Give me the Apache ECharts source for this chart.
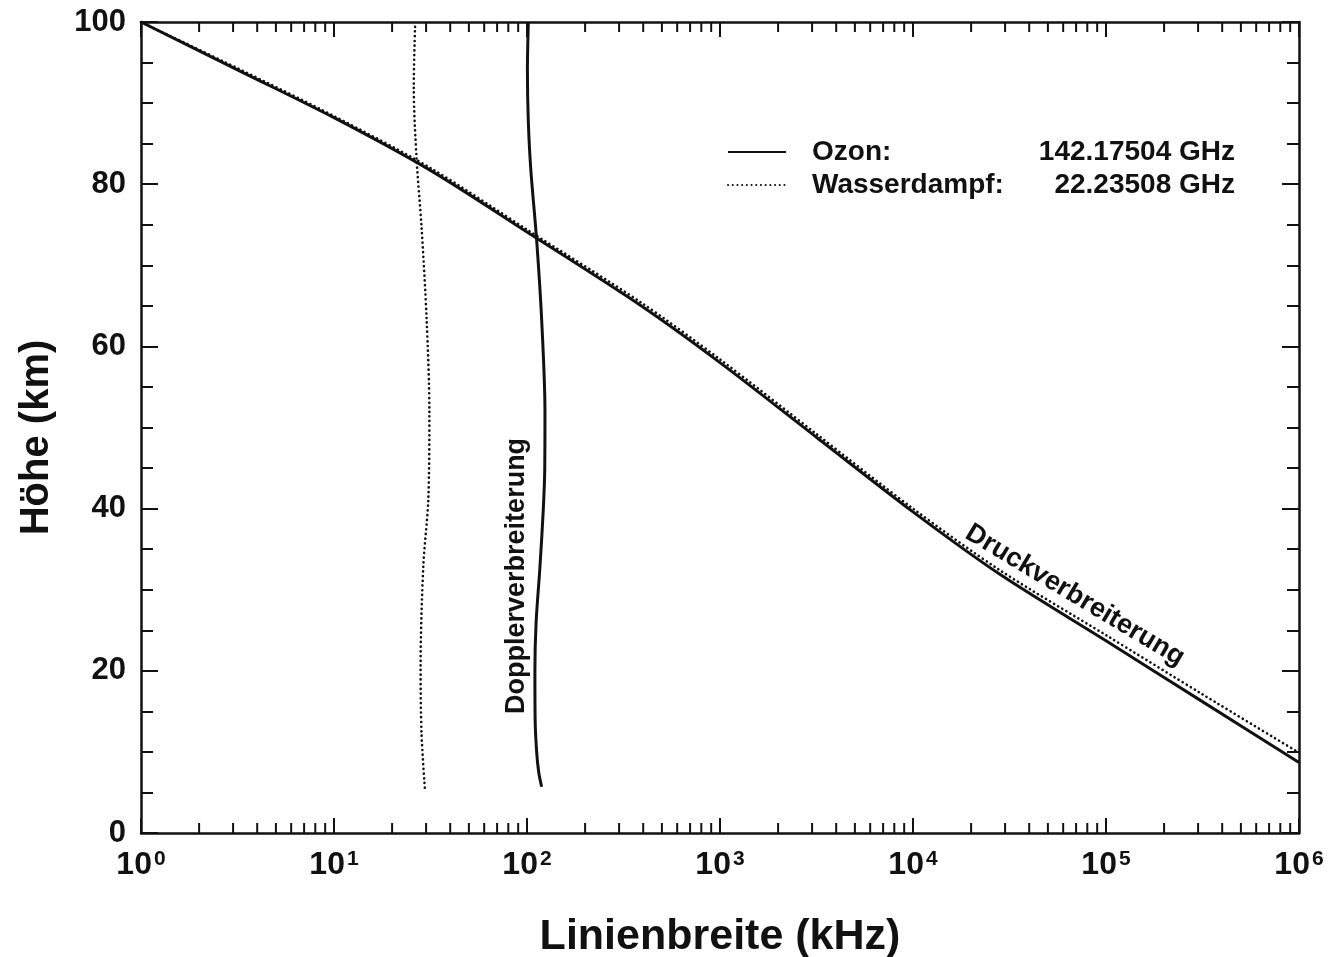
<!DOCTYPE html>
<html>
<head>
<meta charset="utf-8">
<script src="https://cdn.jsdelivr.net/npm/echarts@6/dist/echarts.min.js"></script>
<style>
  html, body { margin: 0; padding: 0; background: #ffffff; }
  #chart { width: 1334px; height: 957px; }
</style>
</head>
<body>
<div id="chart"></div>
<script>
// Linienbreite (kHz) gegen Höhe (km): Druck- und Dopplerverbreiterung
// für die Ozonlinie bei 142.17504 GHz und die Wasserdampflinie bei 22.23508 GHz.

// Druckverbreiterung, Ozon
const ozonDruckBreite = [1, 3.16, 10, 31.6, 100, 385, 1000, 3160, 10000, 28200, 100000, 316000, 1000000];
const ozonDruckHoehe  = [100, 94.1, 88.2, 81.7, 74.1, 65.1, 58.0, 48.8, 39.6, 31.9, 23.7, 16.2, 8.7];

// Druckverbreiterung, Wasserdampf
const wasserDruckBreite = [1, 3.16, 10, 31.6, 100, 385, 1000, 3160, 10000, 28200, 100000, 316000, 1000000];
const wasserDruckHoehe  = [100, 94.3, 88.4, 82.0, 74.4, 65.5, 58.4, 49.2, 40.0, 32.4, 24.4, 17.1, 9.9];

// Dopplerverbreiterung, Ozon
const ozonDopplerBreite = [101.6, 100.5, 101.5, 104.5, 112.2, 119.1, 123.9, 123.6, 121.5, 116.7, 111.5, 109.9, 110.2, 112.2, 115.0, 119.1];
const ozonDopplerHoehe  = [100, 94, 88, 82, 73.1, 63.3, 52, 45, 40, 32.8, 26, 20, 14, 10, 7.5, 5.7];

// Dopplerverbreiterung, Wasserdampf
const wasserDopplerBreite = [26.3, 25.9, 26.8, 28.4, 30.2, 31.2, 30.8, 29.0, 28.1, 28.4, 29.6];
const wasserDopplerHoehe  = [99.4, 92, 83, 74.8, 63.3, 52, 41.1, 32.8, 20.5, 12.3, 5.3];

// Achsen
const hoeheTicks = [0, 20, 40, 60, 80, 100];
const breiteMin = 1, breiteMax = 1000000;
const zwischenTicks = [];
for (let d = 1; d < breiteMax; d *= 10) {
  for (let k = 2; k <= 9; k++) zwischenTicks.push(k * d);
}

// Legende und Beschriftungen
const legendeNamen = ['Ozon', 'Wasserdampf'];
const legendeFrequenz = { 'Ozon': '142.17504 GHz', 'Wasserdampf': '22.23508 GHz' };
const beschriftungen = [
  { text: 'Dopplerverbreiterung', breite: 88.7, hoehe: 31.7, winkel: 90 },
  { text: 'Druckverbreiterung', breite: 69000, hoehe: 29.3, winkel: -31 }
];

const pairs = (xs, ys) => xs.map((x, i) => [x, ys[i]]);

const INK = '#111111';
const FONT = '"Liberation Sans", Arial, Helvetica, sans-serif';

const chart = echarts.init(document.getElementById('chart'), null, { renderer: 'canvas' });

const xAxisBase = {
  type: 'log',
  logBase: 10,
  min: breiteMin,
  max: breiteMax,
  splitLine: { show: false },
  axisLine: { show: true, onZero: false, lineStyle: { color: INK, width: 2.5 } },
  axisTick: { show: true, inside: true, length: 15, lineStyle: { color: INK, width: 2 } },
  minorTick: { show: false }
};

const yAxisBase = {
  type: 'value',
  min: 0,
  max: 100,
  interval: 20,
  splitLine: { show: false },
  axisLine: { show: true, onZero: false, lineStyle: { color: INK, width: 2.5 } },
  axisTick: { show: true, inside: true, length: 17, lineStyle: { color: INK, width: 2 } },
  minorTick: { show: true, splitNumber: 4, length: 12, lineStyle: { color: INK, width: 2 } }
};

const lineSeries = (name, xs, ys, dotted) => ({
  name: name,
  type: 'line',
  xAxisIndex: 0,
  yAxisIndex: 0,
  data: pairs(xs, ys),
  smooth: 0.3,
  symbol: 'none',
  showSymbol: false,
  z: dotted ? 4 : 3,
  lineStyle: dotted
    ? { color: INK, width: 2.6, type: [0.1, 4.6], cap: 'round' }
    : { color: INK, width: 3 },
  itemStyle: { color: INK },
  emphasis: { disabled: true },
  animation: false
});

const option = {
  backgroundColor: '#ffffff',
  animation: false,
  grid: { left: 141, right: 35, top: 22, bottom: 124, containLabel: false, outerBoundsMode: 'none' },
  xAxis: [
    Object.assign({}, xAxisBase, {
      position: 'bottom',
      name: 'Linienbreite (kHz)',
      nameLocation: 'middle',
      nameGap: 83,
      nameTextStyle: { fontFamily: FONT, fontSize: 43, fontWeight: 'bold', color: INK },
      axisLabel: {
        show: true,
        margin: 16,
        color: INK,
        formatter: v => '{b|10}{s|' + Math.round(Math.log10(v)) + '}',
        rich: {
          b: { fontFamily: FONT, fontSize: 32, fontWeight: 'bold', color: INK, lineHeight: 32, verticalAlign: 'bottom' },
          s: { fontFamily: FONT, fontSize: 21, fontWeight: 'bold', color: INK, lineHeight: 16, verticalAlign: 'top', padding: [0, 0, 0, 2] }
        }
      }
    }),
    Object.assign({}, xAxisBase, {
      position: 'top',
      axisLabel: { show: false }
    })
  ],
  yAxis: [
    Object.assign({}, yAxisBase, {
      position: 'left',
      name: 'Höhe (km)',
      nameLocation: 'middle',
      nameGap: 84,
      nameRotate: 90,
      nameTextStyle: { fontFamily: FONT, fontSize: 40, fontWeight: 'bold', color: INK, padding: [0, 20, 0, 0] },
      axisLabel: {
        show: true,
        margin: 15,
        color: INK,
        fontFamily: FONT,
        fontSize: 31,
        fontWeight: 'bold',
        customValues: hoeheTicks
      }
    }),
    Object.assign({}, yAxisBase, {
      position: 'right',
      axisLabel: { show: false }
    })
  ],
  legend: {
    data: legendeNamen,
    orient: 'vertical',
    left: 722,
    top: 132,
    itemWidth: 58,
    itemHeight: 14,
    itemGap: 3,
    selectedMode: false,
    itemStyle: { opacity: 0 },
    formatter: name => '{n|' + name + ':}{f|' + legendeFrequenz[name] + '}',
    textStyle: {
      color: INK,
      lineHeight: 30,
      rich: {
        n: { fontFamily: FONT, fontSize: 28, fontWeight: 'bold', color: INK, width: 200, padding: [0, 0, 0, 21] },
        f: { fontFamily: FONT, fontSize: 28, fontWeight: 'bold', color: INK, width: 223, align: 'right' }
      }
    }
  },
  series: [
    lineSeries('Ozon', ozonDruckBreite, ozonDruckHoehe, false),
    lineSeries('Wasserdampf', wasserDruckBreite, wasserDruckHoehe, true),
    lineSeries('Ozon', ozonDopplerBreite, ozonDopplerHoehe, false),
    lineSeries('Wasserdampf', wasserDopplerBreite, wasserDopplerHoehe, true),
    {
      // Zwischenstriche der logarithmischen Achse, unten und oben
      name: 'zwischenstriche',
      type: 'custom',
      xAxisIndex: 0,
      yAxisIndex: 0,
      silent: true,
      clip: false,
      data: zwischenTicks.map(v => [v, 0]),
      renderItem: (params, api) => {
        const v = api.value(0);
        const unten = api.coord([v, 0]);
        const oben = api.coord([v, 100]);
        const st = { stroke: INK, lineWidth: 2 };
        return {
          type: 'group',
          children: [
            { type: 'line', shape: { x1: unten[0], y1: unten[1], x2: unten[0], y2: unten[1] - 10 }, style: st },
            { type: 'line', shape: { x1: oben[0], y1: oben[1], x2: oben[0], y2: oben[1] + 10 }, style: st }
          ]
        };
      },
      animation: false
    },
    {
      name: 'beschriftung',
      type: 'scatter',
      xAxisIndex: 0,
      yAxisIndex: 0,
      symbolSize: 0,
      silent: true,
      itemStyle: { opacity: 1, color: 'rgba(0,0,0,0)' },
      data: beschriftungen.map(b => ({
        value: [b.breite, b.hoehe],
        label: {
          show: true,
          position: 'inside',
          formatter: b.text,
          rotate: b.winkel,
          fontFamily: FONT,
          fontSize: 27,
          fontWeight: 'bold',
          color: INK,
          opacity: 1
        }
      })),
      animation: false
    }
  ]
};

chart.setOption(option);
</script>
</body>
</html>
